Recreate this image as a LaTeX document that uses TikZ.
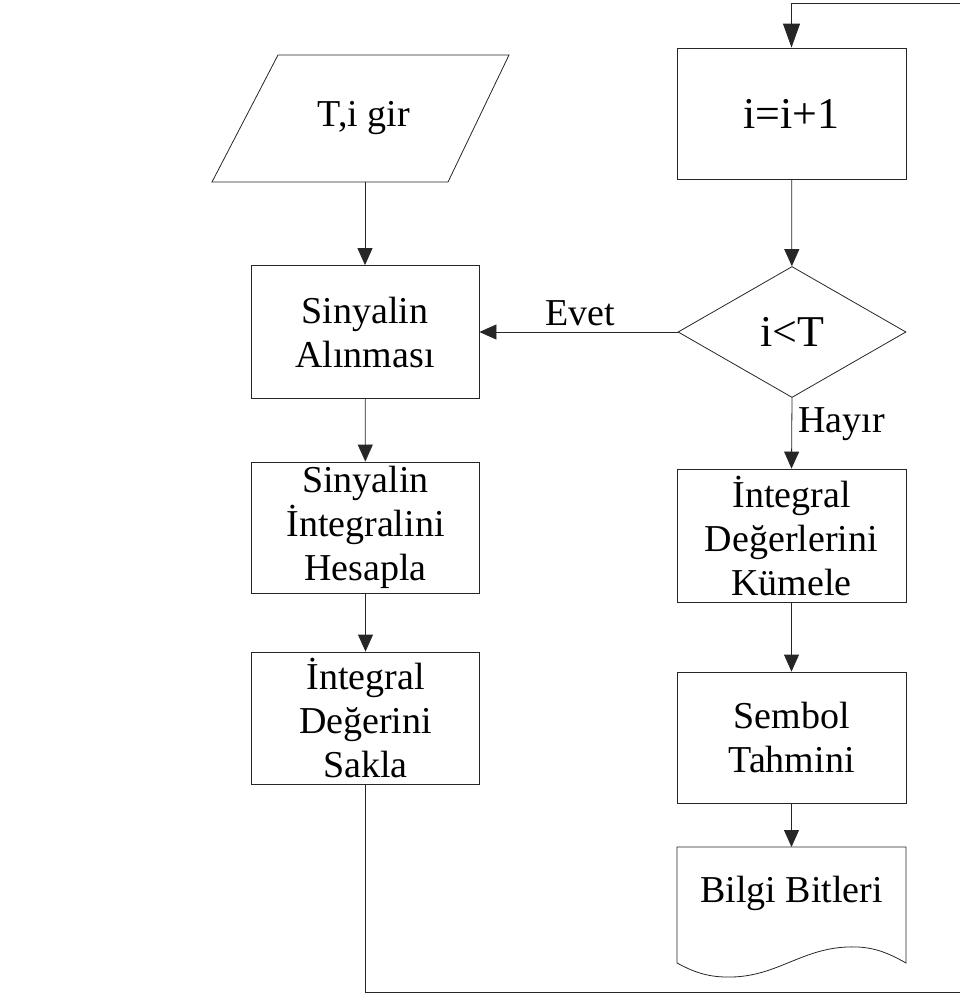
\documentclass[tikz,border=0pt]{standalone}
\usepackage{fontspec}
\setmainfont{Liberation Serif}
\usetikzlibrary{shapes.geometric,arrows.meta}
\begin{document}
\begin{tikzpicture}[x=1pt,y=-1pt,
  ln/.style={line width=0.8pt, draw=black!85},
  arr/.style={ln, -{Triangle[length=17pt,width=15pt]}},
  box/.style={draw=black!85, line width=0.8pt, rectangle, minimum width=228pt, minimum height=132pt,
    inner sep=0pt, align=center, font=\fontsize{38}{44}\selectfont},
  big/.style={font=\fontsize{44}{50}\selectfont},
  lbl/.style={inner sep=0pt, font=\fontsize{38}{44}\selectfont}]
\useasboundingbox (0,0) rectangle (960,996);

% left column
\node[inner sep=0pt, font=\fontsize{38}{44}\selectfont] (gir) at (364,118) {T,i gir};
\coordinate (p1) at (212,182); \coordinate (p2) at (448,182);
\coordinate (p3) at (509,55);  \coordinate (p4) at (278,55);
\draw[ln] (p1) -- (p2) -- (p3) -- (p4) -- cycle;
\coordinate (girb) at (365,182);

\node[box, minimum height=133pt] (alin) at (365,332) {Sinyalin\\Alınması};
\node[box, minimum height=131pt] (hesap) at (365.5,527.5) {Sinyalin\\İntegralini\\Hesapla};
\node[box] (sakla) at (365.5,718) {İntegral\\Değerini\\Sakla};

% right column
\node[box, big, minimum width=229pt, minimum height=131pt] (inc) at (791.5,113.5) {i=i+1};
\node[draw=black!85, line width=0.8pt, diamond, aspect=1.74, minimum width=228pt, minimum height=131pt,
  inner sep=0pt, big] (kos) at (792,332) {i<T};
\node[box, minimum width=229pt, minimum height=133pt] (kume) at (791.5,535.5) {İntegral\\Değerlerini\\Kümele};
\node[box, minimum width=229pt, minimum height=131pt] (sembol) at (791.5,737.5) {Sembol\\Tahmini};

% document shape
\draw[ln] (677,963) -- (677,847) -- (906,847) -- (906,963)
  .. controls (885,951) and (870,946) .. (847,947)
  .. controls (800,949) and (775,978) .. (727,977)
  .. controls (705,977) and (690,970) .. (677,963) -- cycle;
\node[lbl] (bilgi) at (791.5,893) {Bilgi Bitleri};
\coordinate (bilgitop) at (791.5,847);

% labels
\node[lbl, anchor=base] (evet) at (580,325) {Evet};
\node[lbl, anchor=base west] (hayir) at (798,432) {Hayır};

% loop corners
\coordinate (br) at (964,992);
\coordinate (tr) at (964,3);

% connectors
\draw[arr] (girb) -- (alin.north);
\draw[arr] (alin) -- (hesap);
\draw[arr] (hesap) -- (sakla);
\draw[ln, -{Triangle[length=24pt,width=17pt]}] (sakla.south) |- (br) -- (tr) -| (inc.north);
\draw[arr] (inc) -- (kos);
\draw[arr] (kos.west) -- (alin.east);
\draw[arr] (kos.south) -- (kume.north);
\draw[arr] (kume) -- (sembol);
\draw[arr] (sembol) -- (bilgitop);
\end{tikzpicture}
\end{document}
